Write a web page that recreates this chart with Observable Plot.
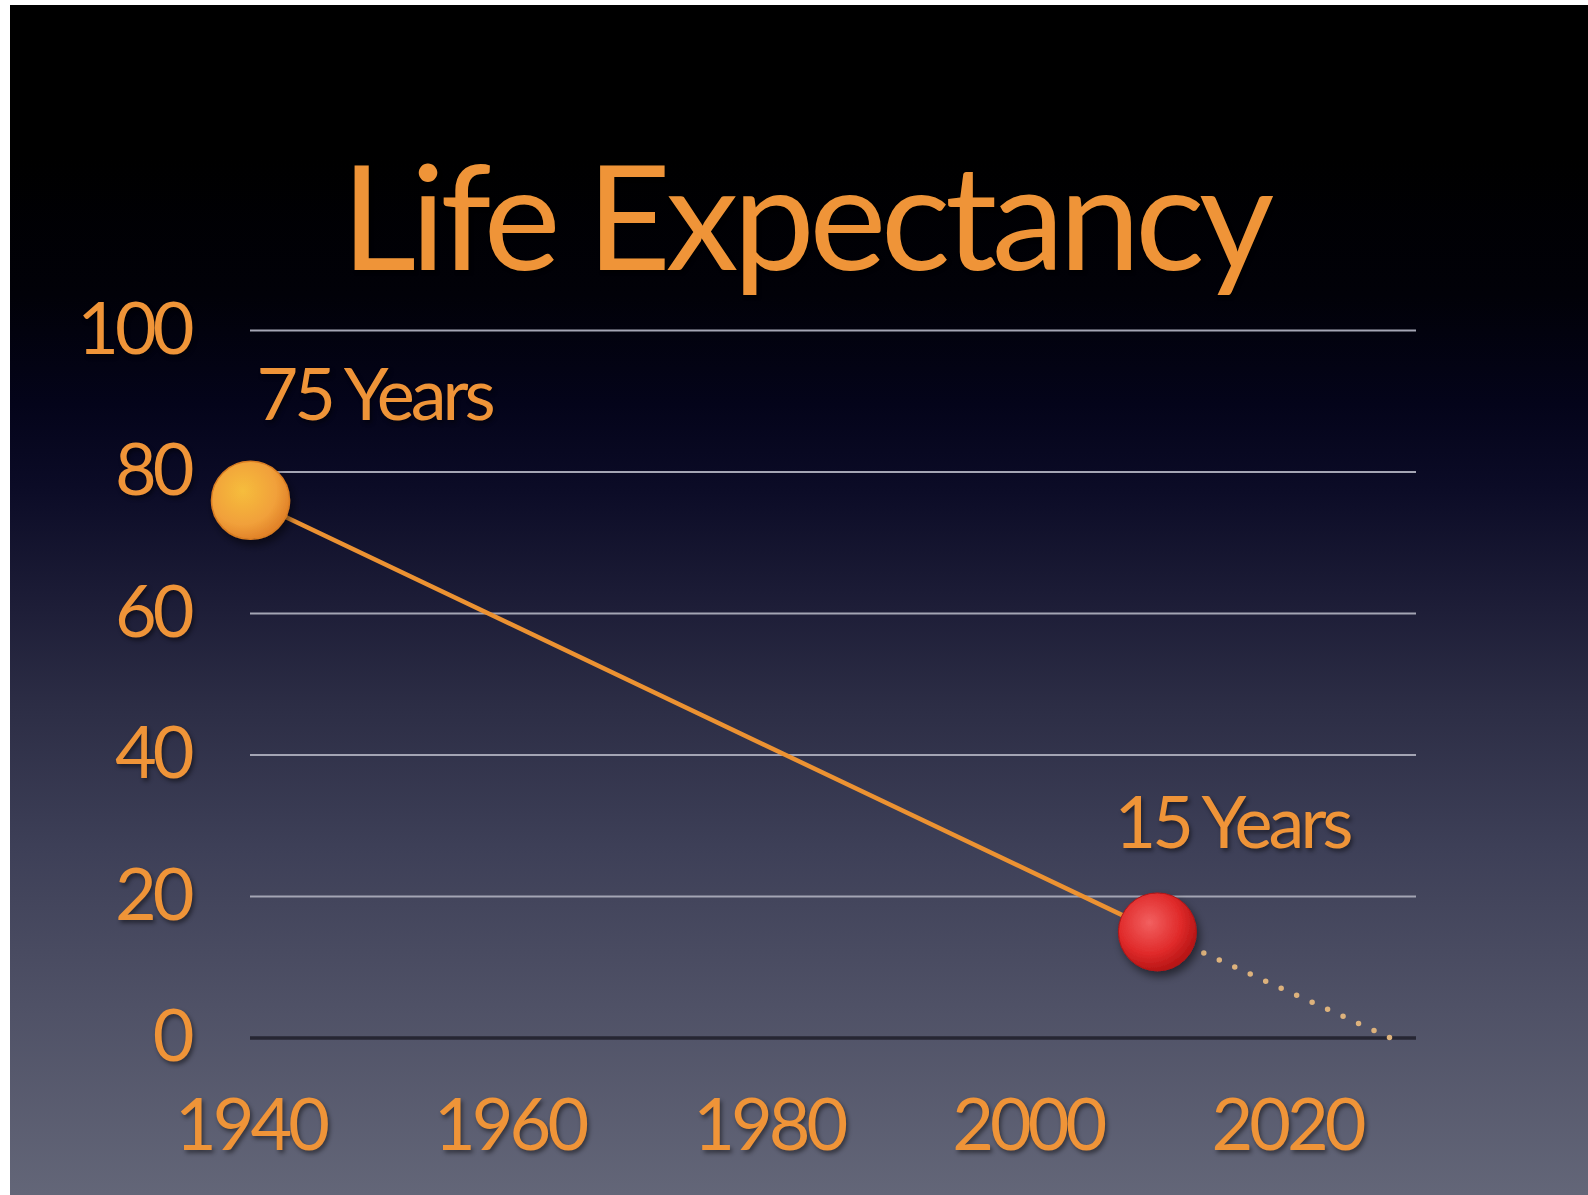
<!DOCTYPE html>
<html>
<head>
<meta charset="utf-8">
<script src="https://cdn.jsdelivr.net/npm/d3@7"></script>
<script src="https://cdn.jsdelivr.net/npm/@observablehq/plot@0.6"></script>
<style>
  html, body { margin: 0; padding: 0; background: #ffffff; }
  #stage {
    position: absolute; left: 10px; top: 5px; width: 1578px; height: 1190px; overflow: hidden;
    background: linear-gradient(to bottom,
      #000000 0px, #000000 150px, #010108 290px, #04041a 400px, #0b0b26 480px,
      #1d1d37 600px, #2c2d45 700px, #3d3f57 840px, #4f5166 1000px, #636678 1190px);
  }
  #title {
    position: absolute; left: 0; width: 1590px; top: 136px; text-align: center;
    font-family: Lato, "Open Sans", sans-serif; font-size: 146px; line-height: 146px;
    color: #ef9438; letter-spacing: -5.5px; white-space: nowrap;
    text-shadow: 2px 3px 3px rgba(0,0,0,0.6);
  }
  #chart { position: absolute; left: 0; top: 0; }
  #chart svg text { letter-spacing: -4px; filter: drop-shadow(2px 3px 2px rgba(0,0,0,0.45)); }
  #chart svg circle { filter: url(#ballShadow); }
</style>
</head>
<body>
<div id="stage">
  <div id="title">Life Expectancy</div>
  <div id="chart"></div>
</div>
<script>
// ---- data ----
const years = [1940, 2010];
const expectancy = [76, 15];
const pointLabels = ["75 Years", "15 Years"];
const projectionYears = [2010, 2028];
const projectionValues = [15, 0];
const yTicks = [0, 20, 40, 60, 80, 100];
const xTicks = [1940, 1960, 1980, 2000, 2020];

const points = years.map((y, i) => ({year: y, value: expectancy[i], label: pointLabels[i]}));
const projection = projectionYears.map((y, i) => ({year: y, value: projectionValues[i]}));

const orange = "#ef9438";

const defs = () => {
  const g = d3.create("svg:g");
  const d = g.append("defs");
  const go = d.append("radialGradient").attr("id", "gOrange").attr("cx", "40%").attr("cy", "38%").attr("r", "62%");
  go.append("stop").attr("offset", "0%").attr("stop-color", "#f6bd3c");
  go.append("stop").attr("offset", "70%").attr("stop-color", "#f1a03a");
  go.append("stop").attr("offset", "100%").attr("stop-color", "#e2842a");
  const gr = d.append("radialGradient").attr("id", "gRed").attr("cx", "40%").attr("cy", "38%").attr("r", "62%");
  gr.append("stop").attr("offset", "0%").attr("stop-color", "#f26060");
  gr.append("stop").attr("offset", "65%").attr("stop-color", "#e02a2a");
  gr.append("stop").attr("offset", "100%").attr("stop-color", "#b81616");
  const f = d.append("filter").attr("id", "ballShadow").attr("x", "-50%").attr("y", "-50%").attr("width", "200%").attr("height", "200%");
  f.append("feDropShadow").attr("dx", 3).attr("dy", 5).attr("stdDeviation", 4).attr("flood-color", "#000").attr("flood-opacity", 0.5);
  return g.node();
};

const plot = Plot.plot({
  width: 1578,
  height: 1190,
  marginLeft: 240,
  marginRight: 172,
  marginTop: 325,
  marginBottom: 157.5,
  x: {domain: [1940, 2030], ticks: xTicks},
  y: {domain: [0, 100], ticks: yTicks},
  style: {background: "transparent", color: orange, fontFamily: "Lato, 'Open Sans', sans-serif", overflow: "visible"},
  marks: [
    defs,
    Plot.ruleY(yTicks.filter(t => t > 0), {stroke: "#a4a5b4", strokeWidth: 2, strokeOpacity: 1}),
    Plot.ruleY([0], {stroke: "#262633", strokeWidth: 3.5}),
    Plot.axisY({ticks: yTicks, tickSize: 0, tickPadding: 60, fontSize: 72, fill: orange, label: null}),
    Plot.axisX({ticks: xTicks, tickSize: 0, tickPadding: 61, fontSize: 72, fill: orange, label: null, tickFormat: d => String(d)}),
    Plot.line(projection, {x: "year", y: "value", stroke: "#ddb27c", strokeWidth: 5.5, strokeDasharray: "0,17", strokeLinecap: "round"}),
    Plot.line(points, {x: "year", y: "value", stroke: "#ec9232", strokeWidth: 4.5}),
    Plot.dot(points.slice(0, 1), {x: "year", y: "value", r: 39, fill: "url(#gOrange)", stroke: "#d97d22", strokeWidth: 1.5}),
    Plot.dot(points.slice(1), {x: "year", y: "value", r: 39, fill: "url(#gRed)", stroke: "#b31414", strokeWidth: 1}),
    Plot.text(points.slice(0, 1), {x: "year", y: "value", text: "label", textAnchor: "start", dx: 6, dy: -103, fontSize: 72, fill: orange}),
    Plot.text(points.slice(1), {x: "year", y: "value", text: "label", textAnchor: "start", dx: -43, dy: -107, fontSize: 72, fill: orange})
  ]
});
document.getElementById("chart").appendChild(plot);
</script>
</body>
</html>
